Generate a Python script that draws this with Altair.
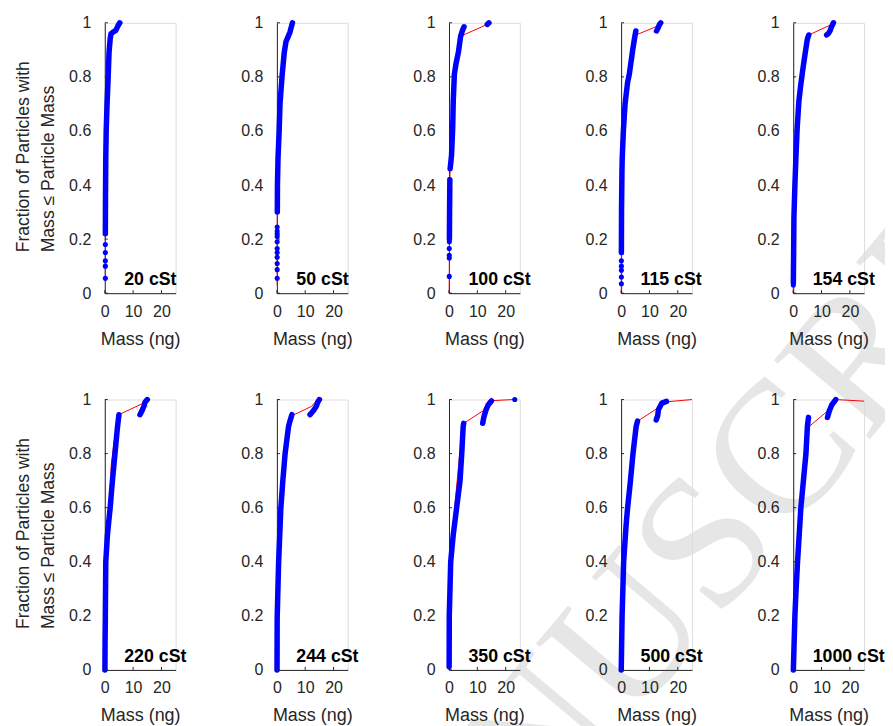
import altair as alt
import pandas as pd

VISC = ["20 cSt", "50 cSt", "100 cSt", "115 cSt", "154 cSt",
        "220 cSt", "244 cSt", "350 cSt", "500 cSt", "1000 cSt"]
TICK_Y = [0, 0.2, 0.4, 0.6, 0.8, 1.0]
TICK_X = [0, 10, 20]
Y_TITLE = ["Fraction of Particles with", "Mass \u2264 Particle Mass"]
X_TITLE = "Mass (ng)"
WATERMARK = "MANUSCRIPT"

# (mass ng, cumulative fraction)
BLUE_20 = [[(0.2, 0.22), (0.25, 0.35), (0.35, 0.5), (0.5, 0.6), (0.8, 0.7), (1.2, 0.8), (1.5, 0.89),
            (1.9, 0.94), (2.2, 0.96), (3.0, 0.966), (3.9, 0.972), (4.6, 0.988), (5.3, 1.0)]]
DOTS_20 = [(0.2, 0.055), (0.2, 0.10), (0.2, 0.12), (0.2, 0.15), (0.2, 0.18)]
RED_20 = [(0.2, 0.04), (0.2, 0.22), (0.25, 0.35), (0.35, 0.5), (0.5, 0.6), (0.8, 0.7), (1.2, 0.8),
          (1.5, 0.89), (1.9, 0.94), (2.2, 0.96), (3.4, 0.962), (4.4, 0.975), (5.3, 1.0)]

BLUE_50 = [[(0.15, 0.3), (0.2, 0.4), (0.4, 0.5), (0.8, 0.6), (1.1, 0.7), (1.8, 0.8), (2.6, 0.89),
            (3.2, 0.93), (4.0, 0.95), (4.6, 0.965), (5.1, 0.985), (5.5, 1.0)]]
DOTS_50 = [(0.1, 0.055), (0.1, 0.087), (0.1, 0.11), (0.1, 0.133), (0.1, 0.15), (0.1, 0.165),
           (0.1, 0.19), (0.1, 0.21), (0.1, 0.22), (0.1, 0.23), (0.1, 0.245)]
RED_50 = [(0.1, 0.03), (0.1, 0.245), (0.15, 0.3), (0.2, 0.4), (0.4, 0.5), (0.8, 0.6), (1.1, 0.7),
          (1.8, 0.8), (2.6, 0.89), (3.2, 0.93), (4.0, 0.95), (4.6, 0.965), (5.1, 0.985), (5.5, 1.0)]

BLUE_100 = [[(0.15, 0.2), (0.2, 0.3), (0.3, 0.42)],
            [(0.4, 0.46), (0.9, 0.51), (1.3, 0.61), (1.5, 0.71), (1.9, 0.81), (2.5, 0.85), (3.3, 0.89),
             (4.1, 0.95), (4.7, 0.97), (5.3, 0.985)],
            [(13.5, 0.994), (14.1, 1.0)]]
DOTS_100 = [(0.1, 0.062), (0.1, 0.13), (0.1, 0.14), (0.1, 0.165), (0.12, 0.19)]
RED_100 = [(0.05, 0.0), (0.1, 0.062), (0.15, 0.2), (0.2, 0.3), (0.3, 0.42), (0.4, 0.46), (0.9, 0.51),
           (1.3, 0.61), (1.5, 0.71), (1.9, 0.81), (2.5, 0.85), (3.3, 0.89), (4.0, 0.95), (13.3, 0.993),
           (14.2, 1.0)]

BLUE_115 = [[(0.1, 0.15), (0.15, 0.3), (0.3, 0.45), (0.4, 0.5), (0.8, 0.6), (1.4, 0.7), (2.3, 0.78),
             (2.9, 0.81), (4.1, 0.9), (4.7, 0.94), (5.2, 0.97)],
            [(12.5, 0.97), (13.0, 0.98), (13.6, 0.995), (14.0, 1.0)]]
DOTS_115 = [(0.1, 0.035), (0.1, 0.06), (0.1, 0.085), (0.1, 0.1), (0.1, 0.12)]
RED_115 = [(0.05, 0.0), (0.1, 0.035), (0.1, 0.15), (0.15, 0.3), (0.3, 0.45), (0.4, 0.5), (0.8, 0.6),
           (1.4, 0.7), (2.0, 0.78), (3.0, 0.86), (4.4, 0.93), (5.3, 0.955), (13.3, 0.99), (14.0, 1.0)]

BLUE_154 = [[(0.05, 0.04), (0.15, 0.15), (0.25, 0.28), (0.6, 0.4), (0.95, 0.5), (1.4, 0.61), (2.0, 0.71),
             (2.6, 0.765), (3.3, 0.82), (3.8, 0.857), (4.5, 0.906), (5.0, 0.94), (5.5, 0.955)],
            [(11.8, 0.955), (12.4, 0.96), (13.0, 0.97), (13.5, 0.985), (14.2, 1.0)]]
DOTS_154 = [(0.05, 0.03)]
RED_154 = [(0.0, 0.0), (0.05, 0.03), (0.15, 0.15), (0.25, 0.28), (0.6, 0.4), (0.95, 0.5), (1.4, 0.61),
           (2.0, 0.71), (2.6, 0.765), (3.3, 0.82), (3.8, 0.857), (4.5, 0.906), (5.0, 0.94), (5.5, 0.955),
           (14.2, 0.997)]

BLUE_220 = [[(0.05, 0.0), (0.1, 0.1), (0.2, 0.2), (0.35, 0.4), (0.94, 0.5), (1.9, 0.6), (2.7, 0.7),
             (3.6, 0.8), (4.5, 0.9), (5.0, 0.944)],
            [(12.4, 0.944), (13.2, 0.96), (13.8, 0.975), (14.2, 0.99), (15.0, 1.0)]]
DOTS_220 = []
RED_220 = [(0.05, 0.0), (0.1, 0.1), (0.2, 0.2), (0.35, 0.4), (0.94, 0.5), (1.6, 0.6), (2.3, 0.76),
           (3.5, 0.86), (5.0, 0.944), (13.3, 0.985), (15.0, 0.975)]

BLUE_244 = [[(0.05, 0.0), (0.1, 0.19), (0.6, 0.395), (1.4, 0.6), (2.1, 0.7), (2.9, 0.8), (4.1, 0.9),
             (4.6, 0.92), (5.3, 0.944)],
            [(11.7, 0.944), (12.2, 0.95), (13.0, 0.96), (13.9, 0.975), (14.4, 0.99), (15.0, 1.0)]]
DOTS_244 = []
RED_244 = [(0.05, 0.0), (0.1, 0.19), (0.6, 0.395), (1.4, 0.6), (2.1, 0.7), (2.9, 0.8), (4.1, 0.9),
           (4.6, 0.92), (5.3, 0.94), (12.3, 0.975), (13.5, 0.99), (14.8, 1.0)]

BLUE_350 = [[(0.05, 0.012), (0.1, 0.2), (0.6, 0.4), (1.5, 0.5), (2.7, 0.6), (3.3, 0.65), (3.9, 0.7),
             (4.5, 0.8), (5.0, 0.9), (5.2, 0.912)],
            [(11.9, 0.912), (12.3, 0.935), (13.0, 0.96), (13.8, 0.98), (15.0, 0.995)]]
DOTS_350 = [(23.2, 1.0)]
RED_350 = [(0.05, 0.0), (0.1, 0.2), (0.6, 0.4), (1.5, 0.5), (2.0, 0.6), (3.6, 0.78), (4.6, 0.86),
           (5.2, 0.912), (12.7, 0.963), (13.9, 0.995), (22.6, 1.0)]

BLUE_500 = [[(0.05, 0.0), (0.35, 0.2), (0.9, 0.4), (1.8, 0.54), (2.3, 0.6), (3.3, 0.7), (4.2, 0.8),
             (5.3, 0.9), (5.8, 0.92)],
            [(12.4, 0.925), (12.9, 0.94), (13.2, 0.963), (14.4, 0.987), (16.0, 0.993)]]
DOTS_500 = []
RED_500 = [(0.05, 0.0), (0.35, 0.2), (0.9, 0.4), (1.8, 0.54), (2.3, 0.6), (3.3, 0.7), (4.2, 0.8),
           (5.3, 0.9), (5.8, 0.92), (13.2, 0.97), (14.4, 0.99), (25.0, 1.0)]

BLUE_1000 = [[(0.05, 0.0), (0.6, 0.2), (0.95, 0.284), (1.5, 0.395), (2.7, 0.6), (3.6, 0.7), (4.5, 0.8),
              (5.0, 0.9), (5.4, 0.934)],
             [(12.1, 0.934), (12.7, 0.957), (13.6, 0.98), (15.0, 1.0)]]
DOTS_1000 = []
RED_1000 = [(0.05, 0.0), (0.6, 0.2), (0.95, 0.284), (1.5, 0.395), (2.7, 0.6), (3.6, 0.7), (4.5, 0.8),
            (5.2, 0.88), (5.6, 0.9), (13.2, 0.967), (15.0, 1.0), (25.0, 0.994)]

PANELS = [
    (BLUE_20, DOTS_20, RED_20), (BLUE_50, DOTS_50, RED_50), (BLUE_100, DOTS_100, RED_100),
    (BLUE_115, DOTS_115, RED_115), (BLUE_154, DOTS_154, RED_154),
    (BLUE_220, DOTS_220, RED_220), (BLUE_244, DOTS_244, RED_244), (BLUE_350, DOTS_350, RED_350),
    (BLUE_500, DOTS_500, RED_500), (BLUE_1000, DOTS_1000, RED_1000),
]

W, H = 71, 271
AX = "#262626"
FONT = "Liberation Sans"

xs = alt.Scale(domain=[0, 25], nice=False, zero=False)
ys = alt.Scale(domain=[0, 1], nice=False)
x_axis = alt.Axis(values=TICK_X, title=X_TITLE, ticks=False, tickSize=0, grid=False,
                  labelFontSize=16, titleFontSize=18, labelPadding=10, titlePadding=11,
                  labelFont=FONT, titleFont=FONT, titleFontWeight="normal",
                  domainColor=AX, labelColor=AX, titleColor=AX, labelFlush=False)
y_axis = alt.Axis(values=TICK_Y, title=None, ticks=False, tickSize=0, grid=False, format="~g",
                  labelFontSize=16, labelPadding=14, labelFont=FONT,
                  domainColor=AX, labelColor=AX, labelFlush=False)


def X(field="m"):
    return alt.X(f"{field}:Q", scale=xs, axis=x_axis)


def Y(field="f"):
    return alt.Y(f"{field}:Q", scale=ys, axis=y_axis)


def panel(idx):
    blue, dots, red = PANELS[idx]
    red_df = pd.DataFrame([{"m": m, "f": f, "o": i} for i, (m, f) in enumerate(red)])
    blue_df = pd.DataFrame([{"m": m, "f": f, "s": s, "o": i}
                            for s, seg in enumerate(blue) for i, (m, f) in enumerate(seg)])
    layers = []
    if idx == 0:
        # faint diagonal watermark behind all panels (overflow is clipped by negative padding)
        layers.append(alt.Chart(pd.DataFrame({"t": [WATERMARK]})).mark_text(
            angle=310, align="left", baseline="alphabetic", font="Liberation Serif",
            fontSize=190, color="#e6e6e6"
        ).encode(x=alt.value(240), y=alt.value(1045), text="t:N"))
    layers.append(alt.Chart(red_df).mark_line(color="#ff0000", strokeWidth=1).encode(
        x=X(), y=Y(), order="o:Q"))
    layers.append(alt.Chart(blue_df).mark_line(color="#0000ff", strokeWidth=5.5, strokeCap="round",
                                               strokeJoin="round").encode(
        x=X(), y=Y(), detail="s:N", order="o:Q"))
    if dots:
        dots_df = pd.DataFrame([{"m": m, "f": f} for m, f in dots])
        layers.append(alt.Chart(dots_df).mark_circle(color="#0000ff", size=26, opacity=1).encode(
            x=X(), y=Y()))
    layers.append(alt.Chart(pd.DataFrame({"t": TICK_Y})).mark_rule(color=AX, strokeWidth=1).encode(
        y=Y("t"), x=alt.value(0), x2=alt.value(3)))
    layers.append(alt.Chart(pd.DataFrame({"t": TICK_X})).mark_rule(color=AX, strokeWidth=1).encode(
        x=X("t"), y=alt.value(H), y2=alt.value(H - 3)))
    layers.append(alt.Chart(pd.DataFrame({"t": [VISC[idx]]})).mark_text(
        align="left", baseline="alphabetic", font=FONT, fontSize=17.8, fontWeight="bold", color="#000000"
    ).encode(x=alt.value(19.5), y=alt.value(H - 8), text="t:N"))
    if idx % 5 == 0:
        for k, xv in enumerate([-81, -56]):
            layers.append(alt.Chart(pd.DataFrame({"t": [Y_TITLE[k]]})).mark_text(
                angle=270, align="left", baseline="middle", font=FONT, fontSize=17.6, color=AX
            ).encode(x=alt.value(xv), y=alt.value(230), text="t:N"))
    return alt.layer(*layers).properties(width=W, height=H)


chart = alt.concat(*[panel(i) for i in range(10)], columns=5,
                   spacing={"row": 106.6, "column": 101.5}, bounds="flush").properties(
    padding={"left": 6, "top": 5, "right": -275, "bottom": -356}
).configure_view(stroke=None).configure(font=FONT)

chart.save("out.html", embed_options={"renderer": "svg", "actions": False})
